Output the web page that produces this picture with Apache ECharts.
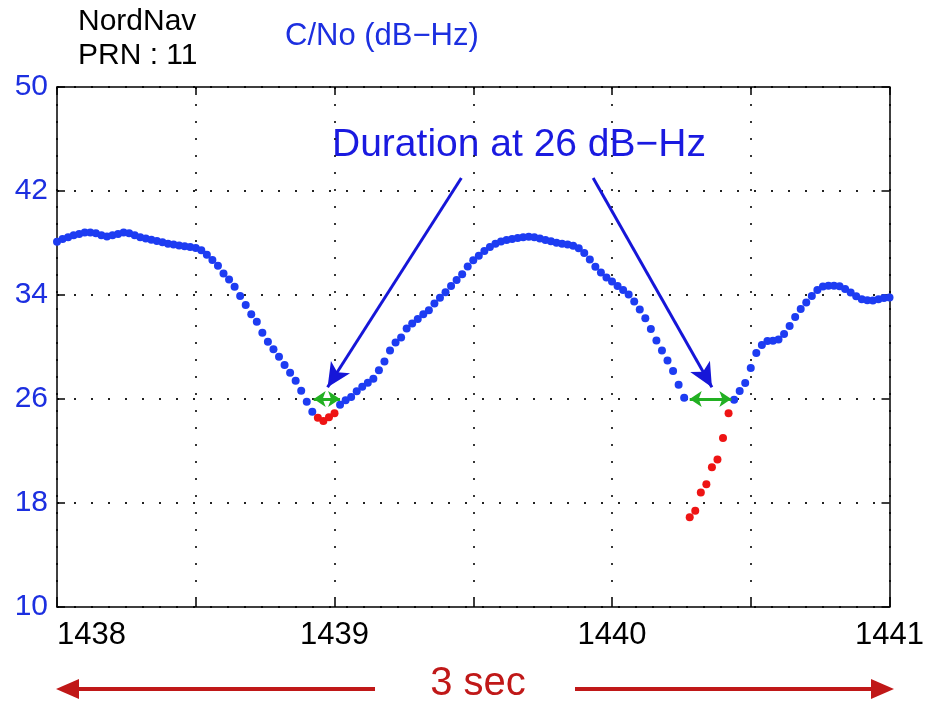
<!DOCTYPE html>
<html>
<head>
<meta charset="utf-8">
<script src="https://cdn.jsdelivr.net/npm/echarts@6/dist/echarts.min.js"></script>
<style>
html,body{margin:0;padding:0;background:#fff;}
#chart{width:927px;height:702px;}
</style>
</head>
<body>
<div id="chart"></div>
<script>
// ---- Data ----
const xTicks = [1438, 1439, 1440, 1441];
const yTicks = [10, 18, 26, 34, 42, 50];

const blueTime = [
 1438.00,1438.02,1438.04,1438.06,1438.08,1438.10,1438.12,1438.14,1438.16,1438.18,
 1438.20,1438.22,1438.24,1438.26,1438.28,1438.30,1438.32,1438.34,1438.36,1438.38,
 1438.40,1438.42,1438.44,1438.46,1438.48,1438.50,1438.52,1438.54,1438.56,1438.58,
 1438.60,1438.62,1438.64,1438.66,1438.68,1438.70,1438.72,1438.74,1438.76,1438.78,
 1438.80,1438.82,1438.84,1438.86,1438.88,1438.90,1438.92,
 1439.02,1439.04,1439.06,1439.08,1439.10,1439.12,1439.14,1439.16,1439.18,
 1439.20,1439.22,1439.24,1439.26,1439.28,1439.30,1439.32,1439.34,1439.36,1439.38,
 1439.40,1439.42,1439.44,1439.46,1439.48,1439.50,1439.52,1439.54,1439.56,1439.58,
 1439.60,1439.62,1439.64,1439.66,1439.68,1439.70,1439.72,1439.74,1439.76,1439.78,
 1439.80,1439.82,1439.84,1439.86,1439.88,1439.90,1439.92,1439.94,1439.96,1439.98,
 1440.00,1440.02,1440.04,1440.06,1440.08,1440.10,1440.12,1440.14,1440.16,1440.18,
 1440.20,1440.22,1440.24,1440.26,
 1440.44,1440.46,1440.48,1440.50,1440.52,1440.54,1440.56,1440.58,
 1440.60,1440.62,1440.64,1440.66,1440.68,1440.70,1440.72,1440.74,1440.76,1440.78,
 1440.80,1440.82,1440.84,1440.86,1440.88,1440.90,1440.92,1440.94,1440.96,1440.98,
 1441.00
];
const blueCN0 = [
 38.10,38.30,38.45,38.60,38.70,38.80,38.80,38.75,38.60,38.50,
 38.60,38.70,38.80,38.75,38.60,38.45,38.35,38.25,38.15,38.05,
 37.95,37.88,37.80,37.75,37.70,37.62,37.45,37.10,36.70,36.25,
 35.65,35.20,34.64,33.92,33.23,32.52,31.95,31.10,30.41,29.82,
 29.25,28.62,28.02,27.41,26.64,25.79,25.02,
 25.55,25.90,26.15,26.60,26.95,27.25,27.55,28.21,28.88,
 29.73,30.34,30.74,31.42,31.80,32.15,32.52,32.82,33.35,33.79,
 34.22,34.70,35.15,35.60,36.19,36.67,37.02,37.38,37.70,37.94,
 38.12,38.23,38.31,38.38,38.44,38.48,38.44,38.35,38.23,38.13,
 38.02,37.94,37.88,37.78,37.60,37.23,36.73,36.17,35.73,35.35,
 35.03,34.69,34.38,34.04,33.50,32.88,32.21,31.38,30.50,29.73,
 28.96,28.15,27.10,26.10,
 25.95,26.62,27.23,28.38,29.54,30.15,30.46,30.48,
 30.58,31.00,31.62,32.31,32.92,33.42,33.92,34.38,34.65,34.72,
 34.72,34.67,34.46,34.19,33.90,33.67,33.59,33.58,33.67,33.77,
 33.81
];
const redTime = [1438.94,1438.96,1438.98,1439.00,
                 1440.28,1440.30,1440.32,1440.34,1440.36,1440.38,1440.40,1440.42];
const redCN0  = [24.55,24.30,24.60,24.90,
                 16.90,17.40,18.80,19.45,20.75,21.35,23.00,24.90];

// annotation geometry in data units
const threshold = 26;
const durationSpans = [[1438.925, 1439.02], [1440.28, 1440.43]];
const pointerStarts = [[1439.457, 43.0], [1439.932, 43.0]];
const pointerEnds   = [[1438.975, 26.9], [1440.36, 26.9]];

const FONT = '"Liberation Sans", Arial, Helvetica, sans-serif';
const BLUE_TXT = '#1c2fe0';
const BLUE_DOT = '#1d3cf2';

const zip = (a, b) => a.map((v, i) => [v, b[i]]);

const markData = [];
pointerStarts.forEach((s, k) => {
  markData.push([
    {coord: s, symbol: 'none', lineStyle: {color: '#1616d8', width: 3, type: 'solid'}},
    {coord: pointerEnds[k], symbol: 'arrow', symbolSize: [17, 24]}
  ]);
});
durationSpans.forEach(sp => {
  markData.push([
    {coord: [sp[0], threshold], symbol: 'arrow', symbolSize: [12, 12], lineStyle: {color: '#22b022', width: 3, type: 'solid'}},
    {coord: [sp[1], threshold], symbol: 'arrow', symbolSize: [12, 12]}
  ]);
});

const chart = echarts.init(document.getElementById('chart'), null, {renderer: 'canvas'});

const gridLine = {show: true, lineStyle: {color: '#222', width: 1.8, type: [2, 15]}};

chart.setOption({
  animation: false,
  backgroundColor: '#fff',
  grid: {left: 57, right: 36, top: 87, bottom: 95, containLabel: false},
  xAxis: [{
    type: 'value', min: 1438, max: 1441, interval: 0.5, position: 'bottom',
    axisLine: {show: true, onZero: false, lineStyle: {color: '#000', width: 1.5}},
    axisTick: {show: true, inside: true, length: 8, lineStyle: {color: '#000', width: 1.5}},
    axisLabel: {
      show: true, margin: 13, color: '#000', fontSize: 31, fontFamily: FONT,
      showMinLabel: true, showMaxLabel: true, alignMinLabel: 'left',
      formatter: v => xTicks.includes(Math.round(v * 1000) / 1000) ? String(v) : ''
    },
    splitLine: gridLine
  }, {
    type: 'value', min: 1438, max: 1441, interval: 0.5, position: 'top',
    axisLine: {show: true, onZero: false, lineStyle: {color: '#000', width: 1.5}},
    axisTick: {show: true, inside: true, length: 8, lineStyle: {color: '#000', width: 1.5}},
    axisLabel: {show: false}, splitLine: {show: false}
  }],
  yAxis: [{
    type: 'value', min: yTicks[0], max: yTicks[yTicks.length - 1], interval: 8, position: 'left',
    axisLine: {show: true, onZero: false, lineStyle: {color: '#000', width: 1.5}},
    axisTick: {show: true, inside: true, length: 8, lineStyle: {color: '#000', width: 1.5}},
    axisLabel: {show: true, margin: 9, color: BLUE_TXT, fontSize: 30, fontFamily: FONT},
    splitLine: gridLine
  }, {
    type: 'value', min: yTicks[0], max: yTicks[yTicks.length - 1], interval: 8, position: 'right',
    axisLine: {show: true, onZero: false, lineStyle: {color: '#000', width: 1.5}},
    axisTick: {show: true, inside: true, length: 8, lineStyle: {color: '#000', width: 1.5}},
    axisLabel: {show: false}, splitLine: {show: false}
  }],
  series: [{
    name: 'C/No', type: 'scatter', xAxisIndex: 0, yAxisIndex: 0,
    data: zip(blueTime, blueCN0), symbol: 'circle', symbolSize: 8,
    itemStyle: {color: BLUE_DOT, opacity: 1}, z: 3,
    markLine: {
      silent: true, animation: false, label: {show: false},
      data: markData, z: 5
    }
  }, {
    name: 'below', type: 'scatter', xAxisIndex: 0, yAxisIndex: 0,
    data: zip(redTime, redCN0), symbol: 'circle', symbolSize: 8,
    itemStyle: {color: '#ee1414', opacity: 1}, z: 4
  }],
  graphic: [
    {type: 'text', x: 78, y: 22, style: {text: 'NordNav', font: '30px ' + FONT, fill: '#000', verticalAlign: 'middle'}},
    {type: 'text', x: 78, y: 56, style: {text: 'PRN : 11', font: '30px ' + FONT, fill: '#000', verticalAlign: 'middle'}},
    {type: 'text', x: 285, y: 36, style: {text: 'C/No (dB\u2212Hz)', font: '31px ' + FONT, fill: BLUE_TXT, verticalAlign: 'middle'}},
    {type: 'text', x: 519, y: 145, style: {text: 'Duration at 26 dB\u2212Hz', font: '39px ' + FONT, fill: '#1a1ae0', align: 'center', verticalAlign: 'middle'}},
    {type: 'line', shape: {x1: 375, y1: 689, x2: 74, y2: 689}, style: {stroke: '#c01818', lineWidth: 4}},
    {type: 'polygon', shape: {points: [[56, 689], [79, 679], [79, 699]]}, style: {fill: '#c01818'}},
    {type: 'line', shape: {x1: 575, y1: 689, x2: 876, y2: 689}, style: {stroke: '#c01818', lineWidth: 4}},
    {type: 'polygon', shape: {points: [[894, 689], [871, 679], [871, 699]]}, style: {fill: '#c01818'}},
    {type: 'text', x: 478, y: 684, style: {text: '3 sec', font: '40px ' + FONT, fill: '#c01818', align: 'center', verticalAlign: 'middle'}}
  ]
});
</script>
</body>
</html>
